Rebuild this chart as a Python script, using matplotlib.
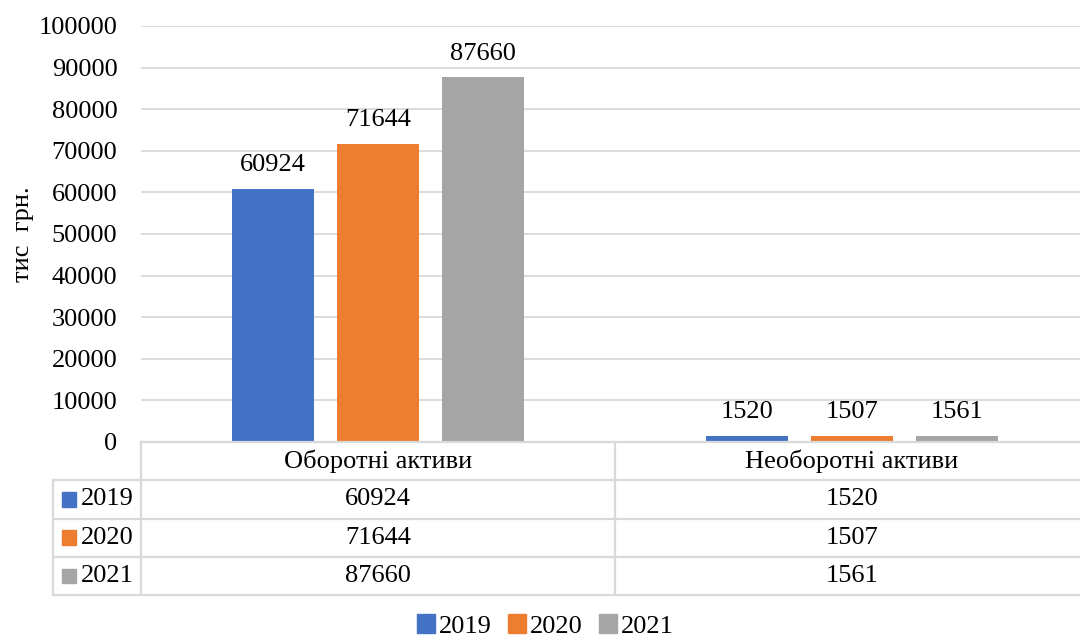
import matplotlib.pyplot as plt
from matplotlib.patches import Patch
import numpy as np

plt.rcParams['font.family'] = ['Liberation Serif', 'DejaVu Serif']

categories = ['Оборотні активи', 'Необоротні активи']
years = ['2019', '2020', '2021']
values_2019 = [60924, 1520]
values_2020 = [71644, 1507]
values_2021 = [87660, 1561]
colors = ['#4472C4', '#ED7D31', '#A5A5A5']
series = [values_2019, values_2020, values_2021]

W, H = 1080, 639
fig = plt.figure(figsize=(W / 100, H / 100), dpi=100)

# plot area in pixels (right edge runs slightly past the canvas)
px_left, px_right, px_top, px_base = 141, 1089, 26, 442
ax = fig.add_axes([px_left / W, (H - px_base) / H,
                   (px_right - px_left) / W, (px_base - px_top) / H])

fs = 19
grid_c = '#d9d9d9'
x = np.arange(len(categories))
bar_w = 0.175
step = 0.2215
for i, (vals, col) in enumerate(zip(series, colors)):
    pos = x + (i - 1) * step
    ax.bar(pos, vals, width=bar_w, color=col, zorder=3)
    for p, v in zip(pos, vals):
        ax.annotate(str(v), (p, v), xytext=(0, 9), textcoords='offset points',
                    ha='center', va='bottom', fontsize=fs)

ax.set_xlim(-0.5, 1.5)
ax.set_ylim(0, 100000)
ax.set_yticks(np.arange(0, 100001, 10000))
ax.tick_params(axis='y', length=0, labelsize=fs, pad=17)
ax.set_xticks([])
ax.grid(axis='y', color=grid_c, linewidth=1.3, zorder=0)
for s in ax.spines.values():
    s.set_visible(False)
ax.set_ylabel('тис  грн.', fontsize=fs)
ax.yaxis.set_label_coords((34 - px_left) / (px_right - px_left), 0.5)

# data table under the chart
t_left, t_bottom = 53, 595
tax = fig.add_axes([t_left / W, (H - t_bottom) / H,
                    (px_right - t_left) / W, (t_bottom - px_base) / H])
unit = (px_right - px_left) / 2.0
x0 = -0.5 - (px_left - t_left) / unit
tax.set_xlim(x0, 1.5)
tax.set_ylim(4, 0)
tax.axis('off')

lk = dict(color=grid_c, linewidth=1.6, clip_on=False)
tax.plot([-0.5, 1.5], [0, 0], **lk)
for r in range(1, 5):
    tax.plot([x0, 1.5], [r, r], **lk)
tax.plot([x0, x0], [1, 4], **lk)
for xv in (-0.5, 0.5):
    tax.plot([xv, xv], [0, 4], **lk)

for c, name in enumerate(categories):
    tax.text(c, 0.5, name, ha='center', va='center', fontsize=fs)
for r, (yr, vals, col) in enumerate(zip(years, series, colors), start=1):
    sq = 14 / unit
    tax.add_patch(plt.Rectangle((x0 + 9 / unit, r + 0.5 - 0.19), sq, 0.38,
                                color=col, clip_on=False))
    tax.text(x0 + 28 / unit, r + 0.5, yr, ha='left', va='center', fontsize=fs)
    for c, v in enumerate(vals):
        tax.text(c, r + 0.5, str(v), ha='center', va='center', fontsize=fs)

handles = [Patch(color=c, label=y) for c, y in zip(colors, years)]
fig.legend(handles=handles, loc='center', ncol=3, frameon=False,
           fontsize=fs, bbox_to_anchor=(0.505, 13 / H), handlelength=0.7,
           handleheight=0.7, handletextpad=0.15, columnspacing=0.6)

fig.savefig('out.png', dpi=100)
